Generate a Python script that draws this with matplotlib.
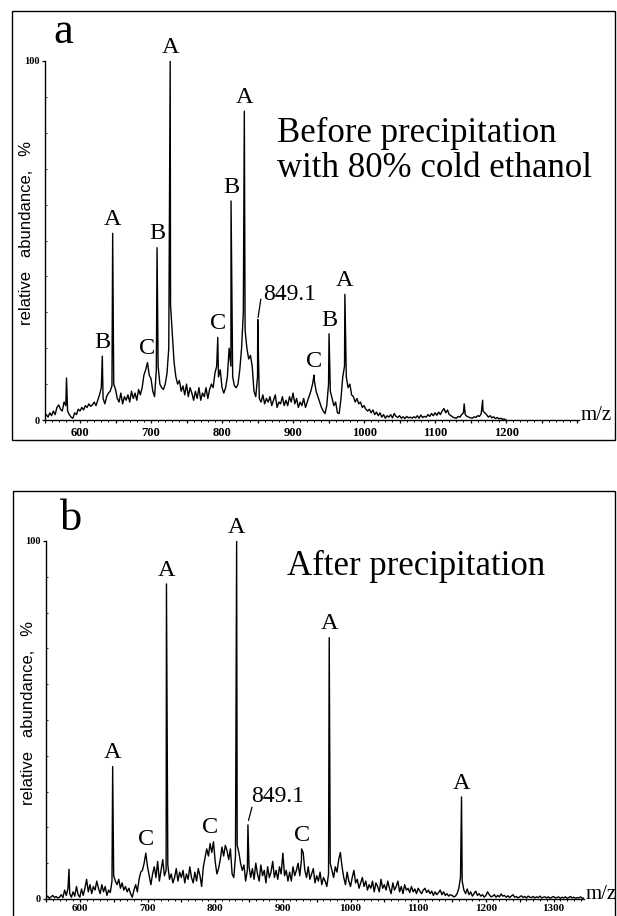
import numpy as np
import matplotlib
matplotlib.use("Agg")
import matplotlib.pyplot as plt
from matplotlib.patches import Rectangle
from matplotlib.ticker import MultipleLocator, FuncFormatter

# panel a: before precipitation, baseline read every 2.5 m/z from 550
base_a = [
    0.5, 1.5, 0.8, 2.0, 1.2, 2.5, 1.5, 3.5,      # 550
    4.2, 3.0, 2.5, 5.0, 4.0, 2.5, 1.5, 0.8,      # 570
    0.5, 2.0, 1.5, 3.0, 2.5, 3.5, 2.8, 4.0,      # 590
    3.5, 4.5, 3.8, 4.2, 5.0, 4.0, 5.5, 7.0,      # 610
    9.0, 6.0, 4.5, 6.5, 7.5, 8.0, 9.5, 10.0,     # 630
    8.5, 6.0, 5.0, 7.5, 4.5, 6.5, 5.5, 7.0,      # 650
    5.0, 8.0, 6.0, 7.5, 5.5, 8.5, 7.0, 9.0,      # 670
    12.5, 14.0, 16.0, 12.5, 11.5, 8.0, 6.5, 14.0,  # 690
    15.0, 10.0, 9.0, 8.5, 10.0, 13.0, 20.0, 32.0,  # 710
    24.0, 16.0, 12.0, 10.0, 11.0, 8.0, 9.5, 7.0,   # 730
    10.0, 6.5, 9.0, 7.5, 5.5, 8.0, 6.0, 9.0,     # 750
    5.5, 7.5, 6.5, 9.0, 6.0, 8.5, 10.0, 9.0,     # 770
    13.0, 15.0, 12.0, 14.0, 9.0, 7.5, 9.0, 12.0,   # 790
    20.0, 15.0, 12.0, 9.5, 9.0, 10.0, 14.0, 20.0,  # 810
    30.0, 25.0, 20.0, 17.0, 18.0, 15.0, 8.0, 6.5,  # 830
    12.0, 6.0, 5.0, 7.0, 4.5, 6.0, 5.0, 6.5,     # 850
    4.0, 5.5, 7.0, 3.5, 5.0, 4.5, 6.5, 4.0,      # 870
    5.5, 4.0, 6.5, 5.0, 7.5, 4.5, 6.0, 3.5,      # 890
    5.0, 4.0, 6.0, 3.5, 5.0, 6.5, 8.0, 10.0,     # 910
    11.0, 8.0, 6.5, 5.0, 3.5, 2.5, 1.8, 4.0,     # 930
    10.0, 8.0, 6.0, 4.0, 5.0, 2.0, 1.8, 6.0,     # 950
    12.0, 15.0, 12.0, 9.0, 10.0, 7.0, 6.5, 5.0,  # 970
    6.0, 4.5, 5.0, 3.5, 4.0, 3.0, 2.5, 3.0,      # 990
    2.0, 2.8, 1.5, 2.2, 1.2, 2.0, 0.8, 1.5,      # 1010
    0.5, 1.2, 0.8, 1.5, 0.6, 1.8, 1.0, 0.7,      # 1030
    1.2, 0.5, 0.9, 0.4, 1.0, 0.6, 0.8, 0.5,      # 1050
    0.9, 0.6, 1.2, 0.5, 1.4, 0.7, 1.0, 0.8,      # 1070
    1.5, 1.0, 1.8, 1.2, 2.0, 1.3, 2.2, 1.5,      # 1090
    2.5, 3.2, 2.0, 2.8, 1.5, 1.2, 0.8, 0.6,      # 1110
    0.5, 1.0, 0.8, 1.5, 2.0, 1.5, 1.0, 0.8,      # 1130
    0.6, 0.5, 0.9, 0.7, 1.2, 1.0, 1.8, 2.5,      # 1150
    2.0, 1.5, 0.8, 1.2, 0.6, 0.9, 0.4, 0.7,      # 1170
    0.3, 0.5, 0.2, 0.3, 0.0,                     # 1190
]
peak_mz_a = [581, 631.4, 646, 708.5, 727, 794, 812.7, 831.4, 850.3, 929.6, 950.7, 973, 1141, 1167]
peak_int_a = [11.7, 17.8, 52, 48, 100, 23, 61, 86, 28, 12.5, 24, 35, 4.5, 5.5]

labels_a = ["B", "A", "C", "B", "A", "C", "B", "A", "C", "B", "A"]
label_mz_a = [631.4, 646, 694, 708.5, 727, 794, 812.7, 831.4, 929.6, 950.7, 973]
label_int_a = [17.8, 52, 16, 48, 100, 23, 61, 86, 12.5, 24, 35]

# panel b: after precipitation
base_b = [
    0.3, 0.8, 0.2, 0.6, 1.0, 0.4, 0.7, 0.3,      # 550
    0.5, 1.2, 0.4, 2.5, 1.0, 3.0, 1.5, 0.5,      # 570
    2.0, 0.8, 3.5, 1.2, 0.5, 2.8, 1.0, 3.0,      # 590
    5.5, 2.0, 4.0, 1.5, 3.5, 2.5, 5.0, 3.0,      # 610
    1.5, 4.0, 2.0, 3.5, 1.0, 2.5, 1.8, 5.0,      # 630
    6.5, 5.0, 4.0, 5.5, 3.0, 4.5, 2.5, 3.5,      # 650
    2.0, 3.0, 1.5, 0.5, 2.5, 4.0, 2.0, 5.5,      # 670
    7.5, 8.0, 10.0, 12.8, 9.0, 6.5, 4.0, 7.0,    # 690
    9.0, 6.0, 10.5, 5.0, 8.0, 11.0, 6.5, 8.0,    # 710
    9.5, 5.5, 7.0, 4.5, 6.0, 8.5, 5.0, 7.5,      # 730
    6.0, 8.0, 4.5, 7.0, 5.5, 9.0, 6.0, 4.5,      # 750
    7.5, 5.0, 8.5, 6.5, 3.5, 9.0, 11.5, 14.0,    # 770
    12.0, 15.5, 13.0, 16.0, 10.5, 7.0, 8.5, 11.0,  # 790
    14.5, 12.0, 15.0, 13.5, 11.0, 14.0, 7.0, 6.0,  # 810
    12.0, 15.0, 13.0, 10.0, 8.0, 9.5, 5.0, 8.0,  # 830
    9.0, 6.0, 8.5, 5.5, 10.0, 7.0, 5.0, 9.5,     # 850
    6.5, 8.0, 4.5, 9.0, 6.0, 7.5, 10.5, 6.0,     # 870
    8.0, 5.5, 9.0, 7.0, 12.8, 6.5, 8.0, 5.0,     # 890
    7.5, 5.0, 9.0, 6.5, 8.0, 10.0, 6.5, 11.0,    # 910
    13.0, 8.0, 6.0, 9.0, 5.5, 7.0, 8.5, 4.5,     # 930
    6.5, 5.0, 7.5, 4.0, 6.0, 5.0, 3.5, 7.0,      # 950
    10.0, 8.0, 6.0, 9.0, 7.5, 11.0, 13.0, 9.0,   # 970
    6.0, 4.0, 7.5, 5.0, 3.5, 6.0, 8.0, 4.5,      # 990
    5.5, 3.0, 4.5, 6.0, 3.5, 5.0, 2.5, 4.0,      # 1010
    3.0, 5.0, 2.0, 4.5, 3.5, 2.0, 5.5, 3.0,      # 1030
    4.0, 2.5, 5.0, 3.0, 1.5, 4.5, 2.5, 3.5,      # 1050
    5.0, 2.0, 3.5, 1.5, 4.0, 2.5, 3.0, 1.8,      # 1070
    3.5, 2.0, 2.8, 1.5, 3.0, 2.2, 1.5, 2.5,      # 1090
    3.0, 1.8, 2.5, 1.5, 2.2, 1.0, 2.0, 1.2,      # 1110
    1.8, 2.5, 1.2, 2.0, 1.0, 1.5, 0.8, 1.2,      # 1130
    1.0, 0.6, 0.8, 1.5, 3.0, 6.0, 5.0, 2.5,      # 1150
    1.5, 2.8, 1.2, 2.0, 0.8, 1.5, 2.2, 1.0,      # 1170
    1.5, 0.8, 1.2, 0.5, 1.0, 2.0, 1.2, 0.6,      # 1190
    0.8, 1.2, 0.5, 1.0, 0.6, 1.4, 0.8, 1.0,      # 1210
    0.5, 0.9, 0.4, 0.8, 1.2, 0.5, 0.7, 0.3,      # 1230
    0.6, 0.9, 0.4, 0.7, 0.3, 0.8, 0.5, 0.4,      # 1250
    0.7, 0.3, 0.6, 0.4, 0.8, 0.3, 0.5, 0.6,      # 1270
    0.3, 0.6, 0.2, 0.5, 0.7, 0.3, 0.4, 0.6,      # 1290
    0.2, 0.5, 0.3, 0.6, 0.2, 0.4, 0.7, 0.3,      # 1310
    0.5, 0.2, 0.4, 0.3, 0.6, 0.2, 0.3, 0.1,      # 1330
]
peak_mz_b = [584, 648.5, 728, 831.7, 848.4, 927.7, 968.5, 1164]
peak_int_b = [8.3, 37, 88, 100, 20.7, 14, 73, 28.5]

labels_b = ["A", "C", "A", "C", "A", "C", "A", "A"]
label_mz_b = [648.5, 697.5, 728, 793, 831.7, 928, 968.5, 1164]
label_int_b = [37, 12.8, 88, 16, 100, 14, 73, 28.5]

SERIF = "Liberation Serif"
SANS = "Liberation Sans"


def spectrum(base, peak_mz, peak_int):
    grid = 550 + 2.5 * np.arange(len(base))
    mz = np.concatenate([grid, peak_mz])
    inten = np.concatenate([base, peak_int])
    order = np.argsort(mz, kind="stable")
    return mz[order], inten[order]


def setup_axes(ax, xmax, last_label, xsize, xpad):
    ax.set_xlim(550, xmax)
    ax.set_ylim(0, 100)
    for s in ["top", "right"]:
        ax.spines[s].set_visible(False)
    for s in ["left", "bottom"]:
        ax.spines[s].set_linewidth(1.0)
    ax.xaxis.set_major_locator(MultipleLocator(50))
    ax.xaxis.set_minor_locator(MultipleLocator(10))
    ax.xaxis.set_major_formatter(FuncFormatter(
        lambda v, p: "%d" % v if (v % 100 == 0 and v <= last_label) else ""))
    ax.tick_params(axis="x", which="major", direction="out", length=2.5, width=0.9, pad=xpad)
    ax.tick_params(axis="x", which="minor", direction="out", length=1.5, width=0.7)
    ax.set_yticks([0, 100])
    ax.set_yticklabels(["0", "100"])
    ax.yaxis.set_minor_locator(MultipleLocator(10))
    ax.tick_params(axis="y", which="major", direction="out", length=2.5, width=0.9, pad=1)
    ax.tick_params(axis="y", which="minor", direction="in", length=1.5, width=0.6)
    for t in ax.get_xticklabels():
        t.set_fontfamily(SERIF)
        t.set_fontweight("bold")
        t.set_fontsize(xsize)
    for t in ax.get_yticklabels():
        t.set_fontfamily(SERIF)
        t.set_fontweight("bold")
        t.set_fontsize(7.5)
    ax.set_ylabel("relative   abundance,   %", fontfamily=SANS, fontsize=12)
    ax.yaxis.set_label_coords(-0.019, 0.52)
    ax.text(1.003, 0, "m/z", transform=ax.transAxes, ha="left", va="baseline",
            fontfamily=SERIF, fontsize=15)


def peak_labels(ax, labels, mzs, ints):
    for lab, m, h in zip(labels, mzs, ints):
        ax.annotate(lab, xy=(m, h), xytext=(0, 6), textcoords="offset points",
                    ha="center", va="baseline", fontfamily=SERIF, fontsize=17.5,
                    annotation_clip=False)


W, H = 617, 916
fig = plt.figure(figsize=(W / 100, H / 100), dpi=100)

# outer frames of the two panels
fig.add_artist(Rectangle((12 / W, 1 - 440 / H), 603 / W, 429 / H,
                         transform=fig.transFigure, fill=False, lw=1.0, color="black"))
fig.add_artist(Rectangle((13 / W, -0.05), 602 / W, 1 - 491 / H + 0.05,
                         transform=fig.transFigure, fill=False, lw=1.0, color="black"))

# panel a
ax_a = fig.add_axes([44.5 / W, 1 - 420 / H, 534 / W, 359 / H])
mz, inten = spectrum(base_a, peak_mz_a, peak_int_a)
ax_a.plot(mz, inten, color="black", lw=1.0)
setup_axes(ax_a, 1302, 1200, 9, 2.5)
peak_labels(ax_a, labels_a, label_mz_a, label_int_a)
ax_a.plot([850.8, 854.6], [28.6, 33.6], color="black", lw=0.9, clip_on=False)
ax_a.text(857.7, 33.4, "849.1", ha="left", va="baseline", fontfamily=SERIF, fontsize=17)
ax_a.text(878, 77.4, "Before precipitation", ha="left", va="baseline",
          fontfamily=SERIF, fontsize=25)
ax_a.text(878, 67.7, "with 80% cold ethanol", ha="left", va="baseline",
          fontfamily=SERIF, fontsize=25)
ax_a.text(576, 105, "a", ha="center", va="baseline", fontfamily=SERIF, fontsize=32,
          clip_on=False)

# panel b
ax_b = fig.add_axes([46 / W, 1 - 899 / H, 538 / W, 358 / H])
mz, inten = spectrum(base_b, peak_mz_b, peak_int_b)
ax_b.plot(mz, inten, color="black", lw=1.0)
setup_axes(ax_b, 1345, 1300, 8, 0.8)
peak_labels(ax_b, labels_b, label_mz_b, label_int_b)
ax_b.plot([849.3, 854.3], [22.0, 25.6], color="black", lw=0.9, clip_on=False)
ax_b.text(853.5, 27.0, "849.1", ha="left", va="baseline", fontfamily=SERIF, fontsize=17)
ax_b.text(905.4, 90.5, "After precipitation", ha="left", va="baseline",
          fontfamily=SERIF, fontsize=25)
ax_b.text(587, 103, "b", ha="center", va="baseline", fontfamily=SERIF, fontsize=32,
          clip_on=False)

fig.savefig("out.png", dpi=100)
